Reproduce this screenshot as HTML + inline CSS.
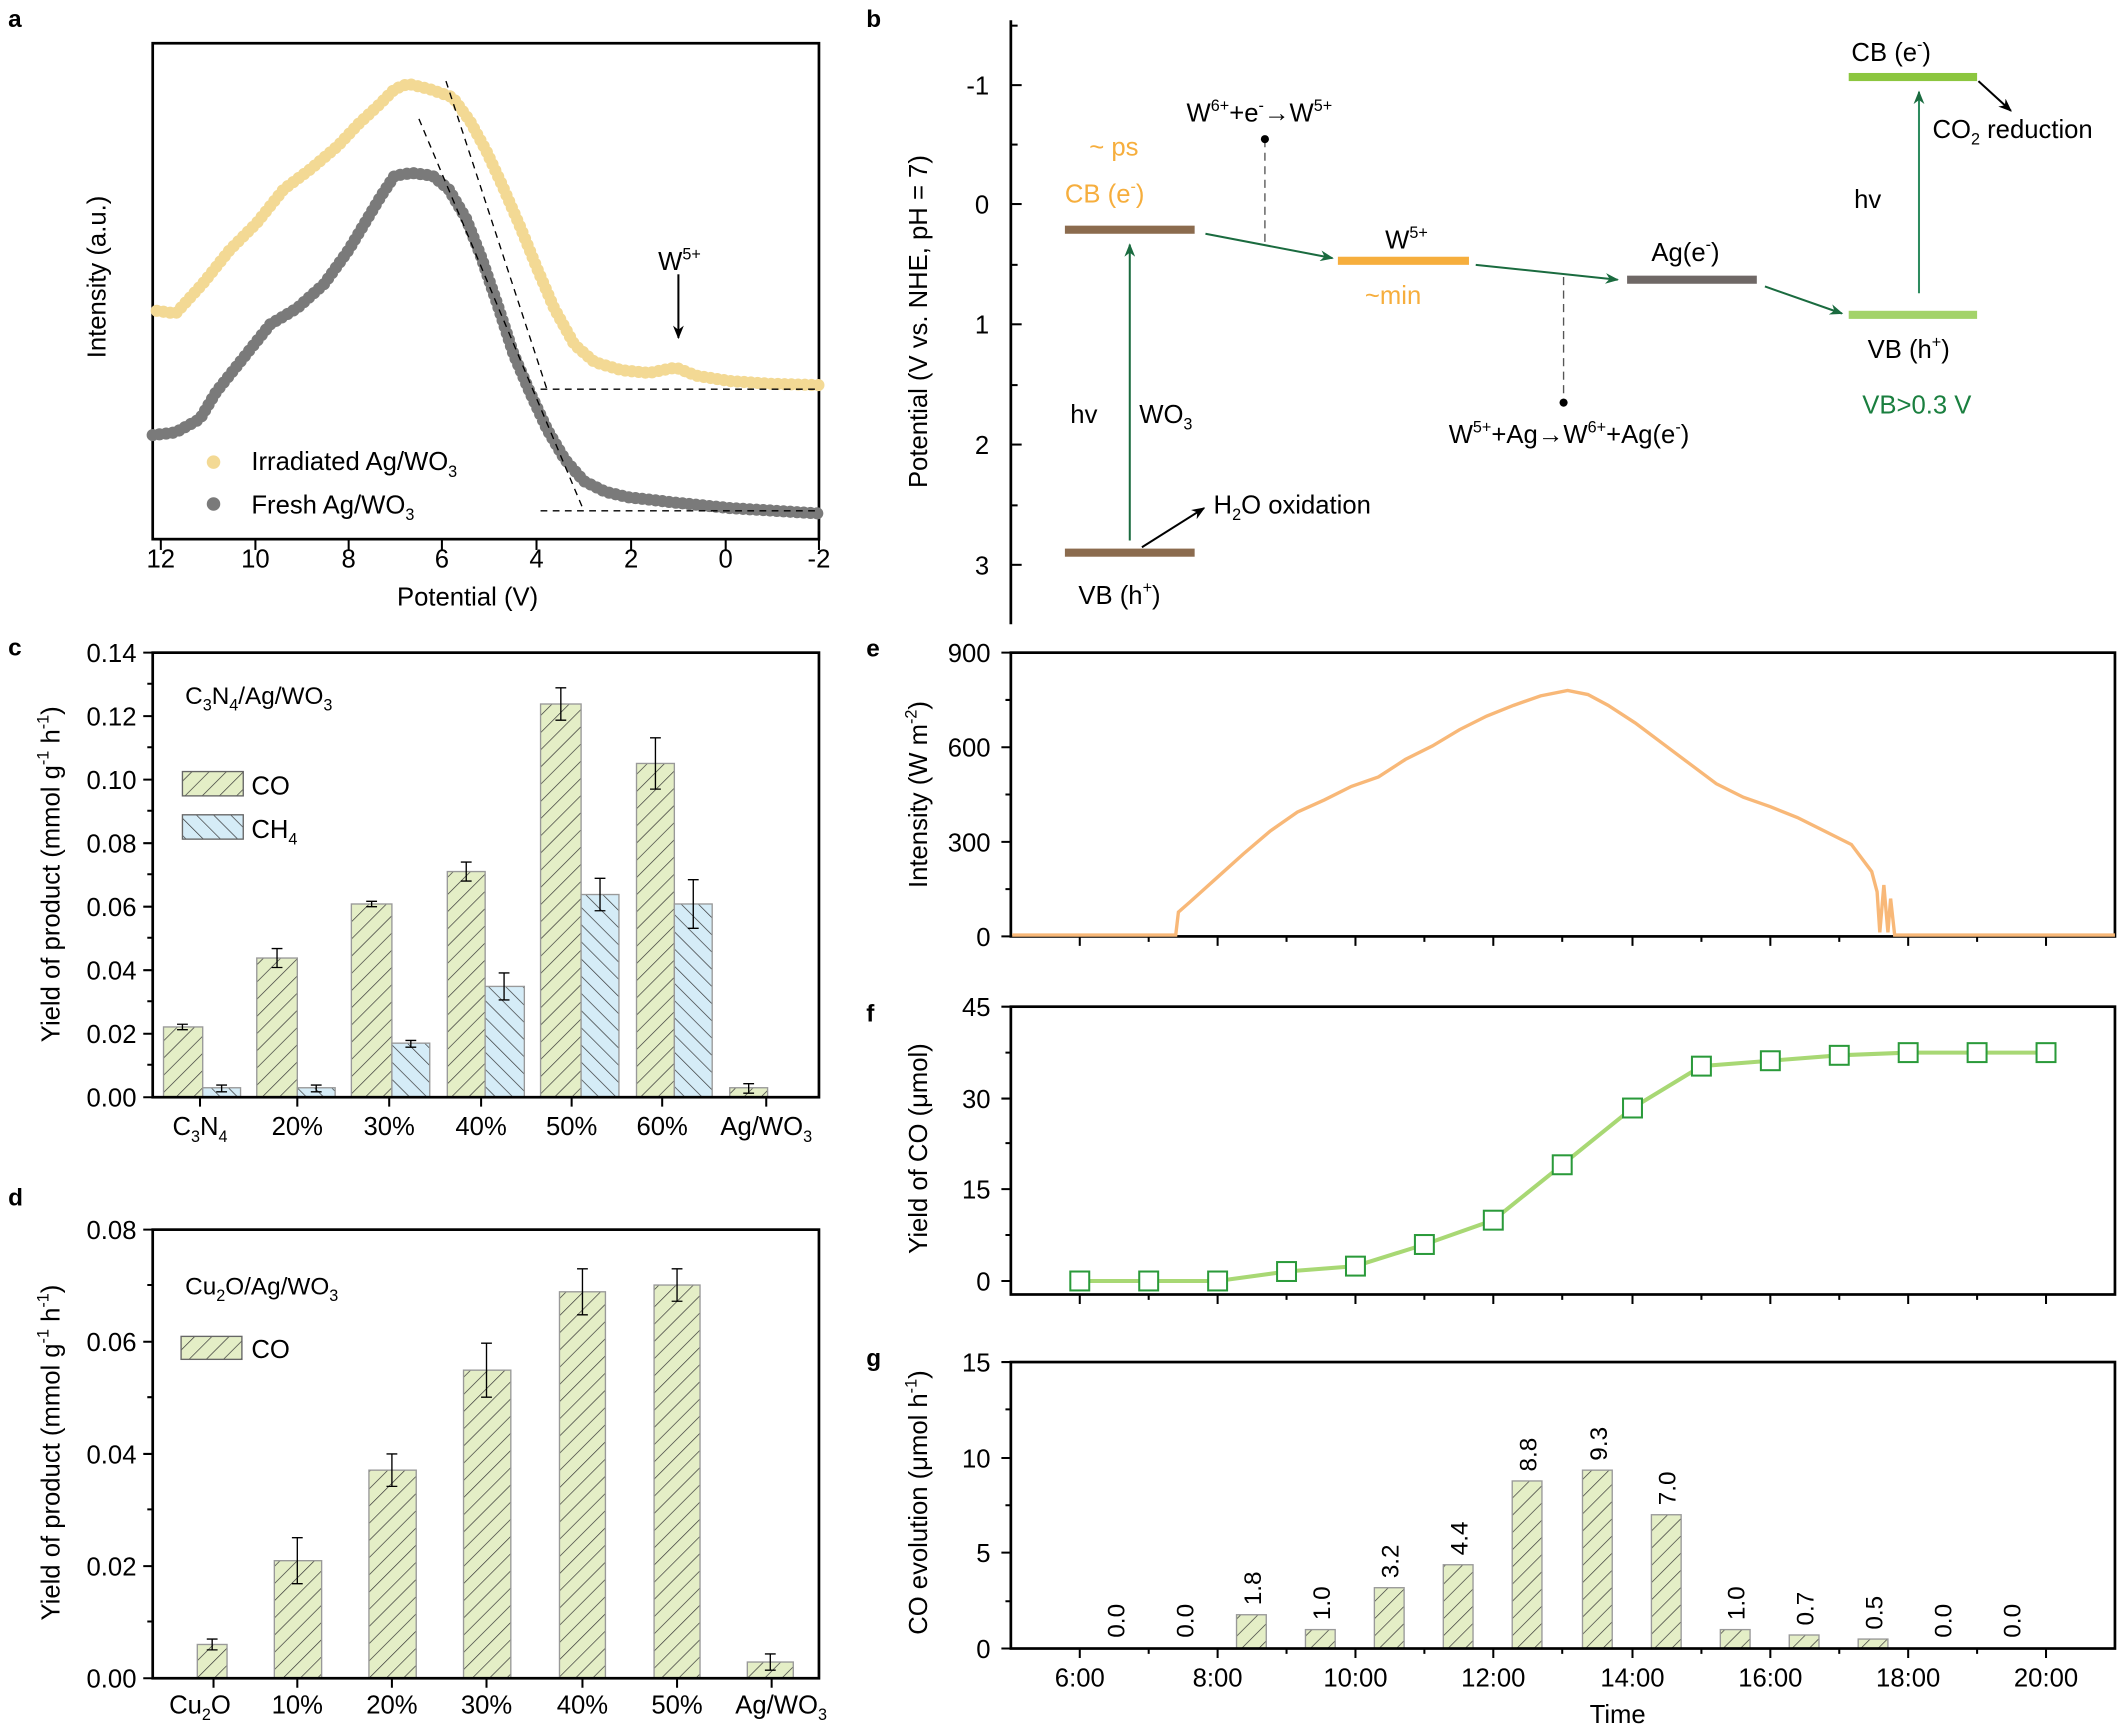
<!DOCTYPE html>
<html><head><meta charset="utf-8"><style>
html,body{margin:0;padding:0;background:#fff;}
svg{display:block;}
text{font-family:"Liberation Sans",sans-serif;fill:#000;}
</style></head><body>
<svg width="2119" height="1735" viewBox="0 0 1568 1284" preserveAspectRatio="none" xmlns="http://www.w3.org/2000/svg">
<defs>
<pattern id="hco" patternUnits="userSpaceOnUse" width="9" height="9" patternTransform="rotate(45)">
<rect width="9" height="9" fill="#e4eec6"/><line x1="0" y1="0" x2="0" y2="9" stroke="#333" stroke-width="1"/></pattern>
<pattern id="hch" patternUnits="userSpaceOnUse" width="9" height="9" patternTransform="rotate(-45)">
<rect width="9" height="9" fill="#d5ecf7"/><line x1="0" y1="0" x2="0" y2="9" stroke="#333" stroke-width="1"/></pattern>
<marker id="ag" markerWidth="10" markerHeight="8" refX="9" refY="4" orient="auto" markerUnits="userSpaceOnUse"><path d="M0,0 L10,4 L0,8 L3,4z" fill="#1a6b3f"/></marker>
<marker id="ak" markerWidth="10" markerHeight="8" refX="9" refY="4" orient="auto" markerUnits="userSpaceOnUse"><path d="M0,0 L10,4 L0,8 L3,4z" fill="#000"/></marker>
</defs>
<g font-weight="bold" font-size="18">
<text x="6" y="20" style="font-weight:bold">a</text><text x="641" y="20" style="font-weight:bold">b</text>
<text x="6" y="485" style="font-weight:bold">c</text><text x="6" y="892" style="font-weight:bold">d</text>
<text x="641" y="486" style="font-weight:bold">e</text><text x="641" y="756" style="font-weight:bold">f</text>
<text x="641" y="1011" style="font-weight:bold">g</text>
</g>

<!-- Panel a -->
<rect x="113" y="32" width="493" height="367" fill="none" stroke="#000" stroke-width="2"/>
<g stroke="#000" stroke-width="1.5">
<line x1="119" y1="399" x2="119" y2="407"/><line x1="189" y1="399" x2="189" y2="407"/><line x1="258" y1="399" x2="258" y2="407"/><line x1="327" y1="399" x2="327" y2="407"/><line x1="397" y1="399" x2="397" y2="407"/><line x1="467" y1="399" x2="467" y2="407"/><line x1="537" y1="399" x2="537" y2="407"/><line x1="606" y1="399" x2="606" y2="407"/>
</g>
<g font-size="19" text-anchor="middle">
<text x="119" y="420">12</text><text x="189" y="420">10</text><text x="258" y="420">8</text><text x="327" y="420">6</text><text x="397" y="420">4</text><text x="467" y="420">2</text><text x="537" y="420">0</text><text x="606" y="420">-2</text>
<text x="346" y="448">Potential (V)</text>
<text transform="translate(78,205) rotate(-90)">Intensity (a.u.)</text>
</g>
<polyline fill="none" stroke="#f3d994" stroke-width="9" stroke-linecap="round" stroke-dasharray="0 5" points="116,230 130,232 150,210 170,185 190,165 210,140 230,125 250,108 265,92 280,78 292,66 302,62 318,66 335,72 348,90 360,112 372,138 385,168 398,200 410,228 425,255 440,268 460,274 480,276 500,272 515,278 540,282 570,284 606,285"/>
<polyline fill="none" stroke="#7a7a7a" stroke-width="9" stroke-linecap="round" stroke-dasharray="0 5" points="113,322 130,320 148,310 160,290 180,265 200,240 220,228 240,210 258,185 270,165 282,145 292,130 305,128 320,130 332,140 345,162 356,190 368,225 380,262 392,290 405,318 418,340 432,356 448,364 465,368 500,372 540,376 606,380"/>
<g stroke="#000" stroke-width="1" stroke-dasharray="5 4" fill="none">
<line x1="310" y1="88" x2="432" y2="378"/><line x1="330" y1="60" x2="405" y2="289"/>
<line x1="400" y1="288" x2="606" y2="288"/><line x1="400" y1="378" x2="606" y2="378"/>
</g>
<line x1="502" y1="203" x2="502" y2="250" stroke="#000" stroke-width="1.5" marker-end="url(#ak)"/>
<text x="487" y="200" font-size="19">W<tspan font-size="12" dy="-8">5+</tspan></text>
<circle cx="158" cy="342" r="5" fill="#f3d994"/><circle cx="158" cy="373" r="5" fill="#7a7a7a"/>
<text x="186" y="348" font-size="19">Irradiated Ag/WO<tspan font-size="12" dy="5">3</tspan></text>
<text x="186" y="380" font-size="19">Fresh Ag/WO<tspan font-size="12" dy="5">3</tspan></text>

<!-- Panel b -->
<line x1="748" y1="15" x2="748" y2="462" stroke="#000" stroke-width="2"/>
<g stroke="#000" stroke-width="1.5">
<line x1="748" y1="63" x2="756" y2="63"/><line x1="748" y1="151" x2="756" y2="151"/><line x1="748" y1="240" x2="756" y2="240"/><line x1="748" y1="329" x2="756" y2="329"/><line x1="748" y1="418" x2="756" y2="418"/>
<line x1="748" y1="19" x2="753" y2="19"/><line x1="748" y1="107" x2="753" y2="107"/><line x1="748" y1="196" x2="753" y2="196"/><line x1="748" y1="285" x2="753" y2="285"/><line x1="748" y1="374" x2="753" y2="374"/>
</g>
<g font-size="19" text-anchor="end">
<text x="732" y="70">-1</text><text x="732" y="158">0</text><text x="732" y="247">1</text><text x="732" y="336">2</text><text x="732" y="425">3</text>
</g>
<text transform="translate(686,238) rotate(-90)" font-size="19" text-anchor="middle">Potential (V vs. NHE, pH = 7)</text>
<rect x="788" y="167" width="96" height="6" fill="#8b6b4e"/>
<rect x="788" y="406" width="96" height="6" fill="#8b6b4e"/>
<rect x="990" y="190" width="97" height="6" fill="#f6ae3d"/>
<rect x="1204" y="204" width="96" height="6" fill="#6f6866"/>
<rect x="1368" y="54" width="95" height="6" fill="#8cc63f"/>
<rect x="1368" y="230" width="95" height="6" fill="#a3d36a"/>
<g font-size="19">
<text x="806" y="115" fill="#f6ae3d" style="fill:#f6ae3d">~ ps</text>
<text x="788" y="150" style="fill:#f6ae3d">CB (e<tspan font-size="12" dy="-8">-</tspan><tspan dy="8">)</tspan></text>
<text x="798" y="447">VB (h<tspan font-size="12" dy="-8">+</tspan><tspan dy="8">)</tspan></text>
<text x="792" y="313">hv</text>
<text x="843" y="313">WO<tspan font-size="12" dy="5">3</tspan></text>
<text x="898" y="380">H<tspan font-size="12" dy="5">2</tspan><tspan dy="-5">O oxidation</tspan></text>
<text x="878" y="90">W<tspan font-size="12" dy="-8">6+</tspan><tspan dy="8">+e</tspan><tspan font-size="12" dy="-8">-</tspan><tspan dy="8">→W</tspan><tspan font-size="12" dy="-8">5+</tspan></text>
<text x="1025" y="184">W<tspan font-size="12" dy="-8">5+</tspan></text>
<text x="1010" y="225" style="fill:#f6ae3d">~min</text>
<text x="1222" y="193">Ag(e<tspan font-size="12" dy="-8">-</tspan><tspan dy="8">)</tspan></text>
<text x="1072" y="328">W<tspan font-size="12" dy="-8">5+</tspan><tspan dy="8">+Ag→W</tspan><tspan font-size="12" dy="-8">6+</tspan><tspan dy="8">+Ag(e</tspan><tspan font-size="12" dy="-8">-</tspan><tspan dy="8">)</tspan></text>
<text x="1370" y="45">CB (e<tspan font-size="12" dy="-8">-</tspan><tspan dy="8">)</tspan></text>
<text x="1430" y="102">CO<tspan font-size="12" dy="5">2</tspan><tspan dy="-5"> reduction</tspan></text>
<text x="1372" y="154">hv</text>
<text x="1382" y="265">VB (h<tspan font-size="12" dy="-8">+</tspan><tspan dy="8">)</tspan></text>
<text x="1378" y="306" style="fill:#1a7f3f">VB&gt;0.3 V</text>
</g>
<g stroke="#1a6b3f" stroke-width="1.5" fill="none">
<line x1="836" y1="400" x2="836" y2="181" marker-end="url(#ag)"/>
<line x1="892" y1="173" x2="986" y2="191" marker-end="url(#ag)"/>
<line x1="1092" y1="196" x2="1197" y2="207" marker-end="url(#ag)"/>
<line x1="1306" y1="212" x2="1363" y2="232" marker-end="url(#ag)"/>
<line x1="1420" y1="217" x2="1420" y2="68" stroke="#2e8b5f" marker-end="url(#ag)"/>
</g>
<line x1="845" y1="405" x2="891" y2="376" stroke="#000" stroke-width="1.5" marker-end="url(#ak)"/>
<line x1="1464" y1="60" x2="1488" y2="82" stroke="#000" stroke-width="1.5" marker-end="url(#ak)"/>
<g stroke="#555" stroke-width="1" stroke-dasharray="6 4">
<line x1="936" y1="103" x2="936" y2="180"/><line x1="1157" y1="205" x2="1157" y2="298"/></g>
<circle cx="936" cy="103" r="3" fill="#000"/><circle cx="1157" cy="298" r="3" fill="#000"/>

<!-- Panel c -->
<g>
<rect x="121" y="760" width="29" height="52" fill="url(#hco)" stroke="#999"/>
<rect x="190" y="709" width="30" height="103" fill="url(#hco)" stroke="#999"/>
<rect x="260" y="669" width="30" height="143" fill="url(#hco)" stroke="#999"/>
<rect x="331" y="645" width="28" height="167" fill="url(#hco)" stroke="#999"/>
<rect x="400" y="521" width="30" height="291" fill="url(#hco)" stroke="#999"/>
<rect x="471" y="565" width="28" height="247" fill="url(#hco)" stroke="#999"/>
<rect x="540" y="805" width="28" height="7" fill="url(#hco)" stroke="#999"/>
<rect x="150" y="805" width="28" height="7" fill="url(#hch)" stroke="#999"/>
<rect x="220" y="805" width="28" height="7" fill="url(#hch)" stroke="#999"/>
<rect x="290" y="772" width="28" height="40" fill="url(#hch)" stroke="#999"/>
<rect x="359" y="730" width="29" height="82" fill="url(#hch)" stroke="#999"/>
<rect x="430" y="662" width="28" height="150" fill="url(#hch)" stroke="#999"/>
<rect x="499" y="669" width="28" height="143" fill="url(#hch)" stroke="#999"/>
</g>
<g stroke="#000" stroke-width="1">
<path d="M135,758V762M131,758H139M131,762H139"/>
<path d="M205,702V716M201,702H209M201,716H209"/>
<path d="M275,667V671M271,667H279M271,671H279"/>
<path d="M345,638V652M341,638H349M341,652H349"/>
<path d="M415,509V533M411,509H419M411,533H419"/>
<path d="M485,546V584M481,546H489M481,584H489"/>
<path d="M554,802V809M550,802H558M550,809H558"/>
<path d="M164,803V808M160,803H168M160,808H168"/>
<path d="M234,803V808M230,803H238M230,808H238"/>
<path d="M304,770V775M300,770H308M300,775H308"/>
<path d="M373,720V740M369,720H377M369,740H377"/>
<path d="M444,650V674M440,650H448M440,674H448"/>
<path d="M513,651V687M509,651H517M509,687H517"/>
</g>
<rect x="113" y="483" width="493" height="329" fill="none" stroke="#000" stroke-width="2"/>
<g stroke="#000" stroke-width="1.5">
<path d="M113,765h-7M113,718h-7M113,671h-7M113,624h-7M113,577h-7M113,530h-7M113,812h-7M113,483h-7"/>
<path d="M113,788h-4M113,741h-4M113,694h-4M113,647h-4M113,600h-4M113,553h-4M113,506h-4"/>
<path d="M148,812v7M220,812v7M288,812v7M356,812v7M423,812v7M490,812v7M567,812v7"/>
</g>
<g font-size="19" text-anchor="end">
<text x="101" y="819">0.00</text><text x="101" y="772">0.02</text><text x="101" y="725">0.04</text><text x="101" y="678">0.06</text><text x="101" y="631">0.08</text><text x="101" y="584">0.10</text><text x="101" y="537">0.12</text><text x="101" y="490">0.14</text>
</g>
<g font-size="19" text-anchor="middle">
<text x="148" y="840">C<tspan font-size="12" dy="5">3</tspan><tspan dy="-5">N</tspan><tspan font-size="12" dy="5">4</tspan></text>
<text x="220" y="840">20%</text><text x="288" y="840">30%</text><text x="356" y="840">40%</text><text x="423" y="840">50%</text><text x="490" y="840">60%</text>
<text x="567" y="840">Ag/WO<tspan font-size="12" dy="5">3</tspan></text>
<text transform="translate(44,647) rotate(-90)">Yield of product (mmol g<tspan font-size="12" dy="-8">-1</tspan><tspan dy="8"> h</tspan><tspan font-size="12" dy="-8">-1</tspan><tspan dy="8">)</tspan></text>
</g>
<text x="137" y="521" font-size="18">C<tspan font-size="12" dy="5">3</tspan><tspan dy="-5">N</tspan><tspan font-size="12" dy="5">4</tspan><tspan dy="-5">/Ag/WO</tspan><tspan font-size="12" dy="5">3</tspan></text>
<rect x="135" y="571" width="45" height="18" fill="url(#hco)" stroke="#666"/>
<rect x="135" y="603" width="45" height="18" fill="url(#hch)" stroke="#666"/>
<text x="186" y="588" font-size="19">CO</text>
<text x="186" y="620" font-size="19">CH<tspan font-size="12" dy="5">4</tspan></text>

<!-- Panel d -->
<g>
<rect x="146" y="1217" width="22" height="25" fill="url(#hco)" stroke="#999"/>
<rect x="203" y="1155" width="35" height="87" fill="url(#hco)" stroke="#999"/>
<rect x="273" y="1088" width="35" height="154" fill="url(#hco)" stroke="#999"/>
<rect x="343" y="1014" width="35" height="228" fill="url(#hco)" stroke="#999"/>
<rect x="414" y="956" width="34" height="286" fill="url(#hco)" stroke="#999"/>
<rect x="484" y="951" width="34" height="291" fill="url(#hco)" stroke="#999"/>
<rect x="553" y="1230" width="34" height="12" fill="url(#hco)" stroke="#999"/>
</g>
<g stroke="#000" stroke-width="1">
<path d="M157,1213V1221M153,1213H161M153,1221H161"/>
<path d="M220,1138V1172M216,1138H224M216,1172H224"/>
<path d="M290,1076V1100M286,1076H294M286,1100H294"/>
<path d="M360,994V1034M356,994H364M356,1034H364"/>
<path d="M431,939V973M427,939H435M427,973H435"/>
<path d="M501,939V963M497,939H505M497,963H505"/>
<path d="M570,1224V1236M566,1224H574M566,1236H574"/>
</g>
<rect x="113" y="910" width="493" height="332" fill="none" stroke="#000" stroke-width="2"/>
<g stroke="#000" stroke-width="1.5">
<path d="M113,1242h-7M113,1159h-7M113,1076h-7M113,993h-7M113,910h-7"/>
<path d="M113,1200h-4M113,1117h-4M113,1034h-4M113,951h-4"/>
<path d="M158,1242v7M220,1242v7M290,1242v7M360,1242v7M431,1242v7M501,1242v7M571,1242v7"/>
</g>
<g font-size="19" text-anchor="end">
<text x="101" y="1249">0.00</text><text x="101" y="1166">0.02</text><text x="101" y="1083">0.04</text><text x="101" y="1000">0.06</text><text x="101" y="917">0.08</text>
</g>
<g font-size="19" text-anchor="middle">
<text x="148" y="1268">Cu<tspan font-size="12" dy="5">2</tspan><tspan dy="-5">O</tspan></text>
<text x="220" y="1268">10%</text><text x="290" y="1268">20%</text><text x="360" y="1268">30%</text><text x="431" y="1268">40%</text><text x="501" y="1268">50%</text>
<text x="578" y="1268">Ag/WO<tspan font-size="12" dy="5">3</tspan></text>
<text transform="translate(44,1075) rotate(-90)">Yield of product (mmol g<tspan font-size="12" dy="-8">-1</tspan><tspan dy="8"> h</tspan><tspan font-size="12" dy="-8">-1</tspan><tspan dy="8">)</tspan></text>
</g>
<text x="137" y="958" font-size="18">Cu<tspan font-size="12" dy="5">2</tspan><tspan dy="-5">O/Ag/WO</tspan><tspan font-size="12" dy="5">3</tspan></text>
<rect x="134" y="989" width="45" height="17" fill="url(#hco)" stroke="#666"/>
<text x="186" y="1005" font-size="19">CO</text>

<!-- Panel e -->
<rect x="748" y="483" width="817" height="210" fill="none" stroke="#000" stroke-width="2"/>
<g stroke="#000" stroke-width="1.5">
<path d="M748,693h-7M748,623h-7M748,553h-7M748,483h-7M748,658h-4M748,588h-4M748,518h-4"/>
<path d="M799,693v7M901,693v7M1003,693v7M1105,693v7M1208,693v7M1310,693v7M1412,693v7M1514,693v7"/>
<path d="M850,693v4M952,693v4M1054,693v4M1156,693v4M1259,693v4M1361,693v4M1463,693v4"/>
</g>
<g font-size="19" text-anchor="end">
<text x="733" y="700">0</text><text x="733" y="630">300</text><text x="733" y="560">600</text><text x="733" y="490">900</text>
</g>
<text transform="translate(686,588) rotate(-90)" font-size="19" text-anchor="middle">Intensity (W m<tspan font-size="12" dy="-8">-2</tspan><tspan dy="8">)</tspan></text>
<polyline fill="none" stroke="#f8b878" stroke-width="2.5" points="749,692 870,692 872,675 880,668 900,650 920,632 940,615 960,601 980,592 1000,582 1020,575 1040,562 1060,552 1080,540 1100,530 1120,522 1140,515 1160,511 1175,514 1190,522 1210,535 1230,550 1250,565 1270,580 1290,590 1310,597 1330,605 1350,615 1370,625 1385,645 1389,660 1391,690 1394,655 1397,690 1399,665 1402,692 1565,692"/>

<!-- Panel f -->
<rect x="748" y="745" width="817" height="213" fill="none" stroke="#000" stroke-width="2"/>
<g stroke="#000" stroke-width="1.5">
<path d="M748,948h-7M748,880h-7M748,813h-7M748,745h-7M748,914h-4M748,846h-4M748,779h-4"/>
<path d="M799,958v7M901,958v7M1003,958v7M1105,958v7M1208,958v7M1310,958v7M1412,958v7M1514,958v7"/>
<path d="M850,958v4M952,958v4M1054,958v4M1156,958v4M1259,958v4M1361,958v4M1463,958v4"/>
</g>
<g font-size="19" text-anchor="end">
<text x="733" y="955">0</text><text x="733" y="887">15</text><text x="733" y="820">30</text><text x="733" y="752">45</text>
</g>
<text transform="translate(686,850) rotate(-90)" font-size="19" text-anchor="middle">Yield of CO (μmol)</text>
<polyline fill="none" stroke="#a8d874" stroke-width="3" points="799,948 850,948 901,948 952,941 1003,937 1054,921 1105,903 1156,862 1208,820 1259,789 1310,785 1361,781 1412,779 1463,779 1514,779"/>
<g fill="#fff" stroke="#2a9a3a" stroke-width="1.5">
<rect x="792" y="941" width="14" height="14"/><rect x="843" y="941" width="14" height="14"/><rect x="894" y="941" width="14" height="14"/><rect x="945" y="934" width="14" height="14"/><rect x="996" y="930" width="14" height="14"/><rect x="1047" y="914" width="14" height="14"/><rect x="1098" y="896" width="14" height="14"/><rect x="1149" y="855" width="14" height="14"/><rect x="1201" y="813" width="14" height="14"/><rect x="1252" y="782" width="14" height="14"/><rect x="1303" y="778" width="14" height="14"/><rect x="1354" y="774" width="14" height="14"/><rect x="1405" y="772" width="14" height="14"/><rect x="1456" y="772" width="14" height="14"/><rect x="1507" y="772" width="14" height="14"/>
</g>

<!-- Panel g -->
<g>
<rect x="915" y="1195" width="22" height="25" fill="url(#hco)" stroke="#999"/>
<rect x="966" y="1206" width="22" height="14" fill="url(#hco)" stroke="#999"/>
<rect x="1017" y="1175" width="22" height="45" fill="url(#hco)" stroke="#999"/>
<rect x="1068" y="1158" width="22" height="62" fill="url(#hco)" stroke="#999"/>
<rect x="1119" y="1096" width="22" height="124" fill="url(#hco)" stroke="#999"/>
<rect x="1171" y="1088" width="22" height="132" fill="url(#hco)" stroke="#999"/>
<rect x="1222" y="1121" width="22" height="99" fill="url(#hco)" stroke="#999"/>
<rect x="1273" y="1206" width="22" height="14" fill="url(#hco)" stroke="#999"/>
<rect x="1324" y="1210" width="22" height="10" fill="url(#hco)" stroke="#999"/>
<rect x="1375" y="1213" width="22" height="7" fill="url(#hco)" stroke="#999"/>
</g>
<rect x="748" y="1008" width="817" height="212" fill="none" stroke="#000" stroke-width="2"/>
<g stroke="#000" stroke-width="1.5">
<path d="M748,1220h-7M748,1149h-7M748,1079h-7M748,1008h-7M748,1185h-4M748,1114h-4M748,1043h-4"/>
<path d="M799,1220v7M901,1220v7M1003,1220v7M1105,1220v7M1208,1220v7M1310,1220v7M1412,1220v7M1514,1220v7"/>
<path d="M850,1220v4M952,1220v4M1054,1220v4M1156,1220v4M1259,1220v4M1361,1220v4M1463,1220v4"/>
</g>
<g font-size="19" text-anchor="end">
<text x="733" y="1227">0</text><text x="733" y="1156">5</text><text x="733" y="1086">10</text><text x="733" y="1015">15</text>
</g>
<g font-size="19" text-anchor="middle">
<text x="799" y="1248">6:00</text><text x="901" y="1248">8:00</text><text x="1003" y="1248">10:00</text><text x="1105" y="1248">12:00</text><text x="1208" y="1248">14:00</text><text x="1310" y="1248">16:00</text><text x="1412" y="1248">18:00</text><text x="1514" y="1248">20:00</text>
<text x="1197" y="1275">Time</text>
<text transform="translate(686,1112) rotate(-90)">CO evolution (μmol h<tspan font-size="12" dy="-8">-1</tspan><tspan dy="8">)</tspan></text>
</g>
<g font-size="18">
<text transform="translate(832,1212) rotate(-90)">0.0</text>
<text transform="translate(883,1212) rotate(-90)">0.0</text>
<text transform="translate(933,1188) rotate(-90)">1.8</text>
<text transform="translate(984,1199) rotate(-90)">1.0</text>
<text transform="translate(1035,1168) rotate(-90)">3.2</text>
<text transform="translate(1086,1151) rotate(-90)">4.4</text>
<text transform="translate(1137,1089) rotate(-90)">8.8</text>
<text transform="translate(1189,1081) rotate(-90)">9.3</text>
<text transform="translate(1240,1114) rotate(-90)">7.0</text>
<text transform="translate(1291,1199) rotate(-90)">1.0</text>
<text transform="translate(1342,1203) rotate(-90)">0.7</text>
<text transform="translate(1393,1206) rotate(-90)">0.5</text>
<text transform="translate(1444,1212) rotate(-90)">0.0</text>
<text transform="translate(1495,1212) rotate(-90)">0.0</text>
</g>
</svg>
</body></html>
